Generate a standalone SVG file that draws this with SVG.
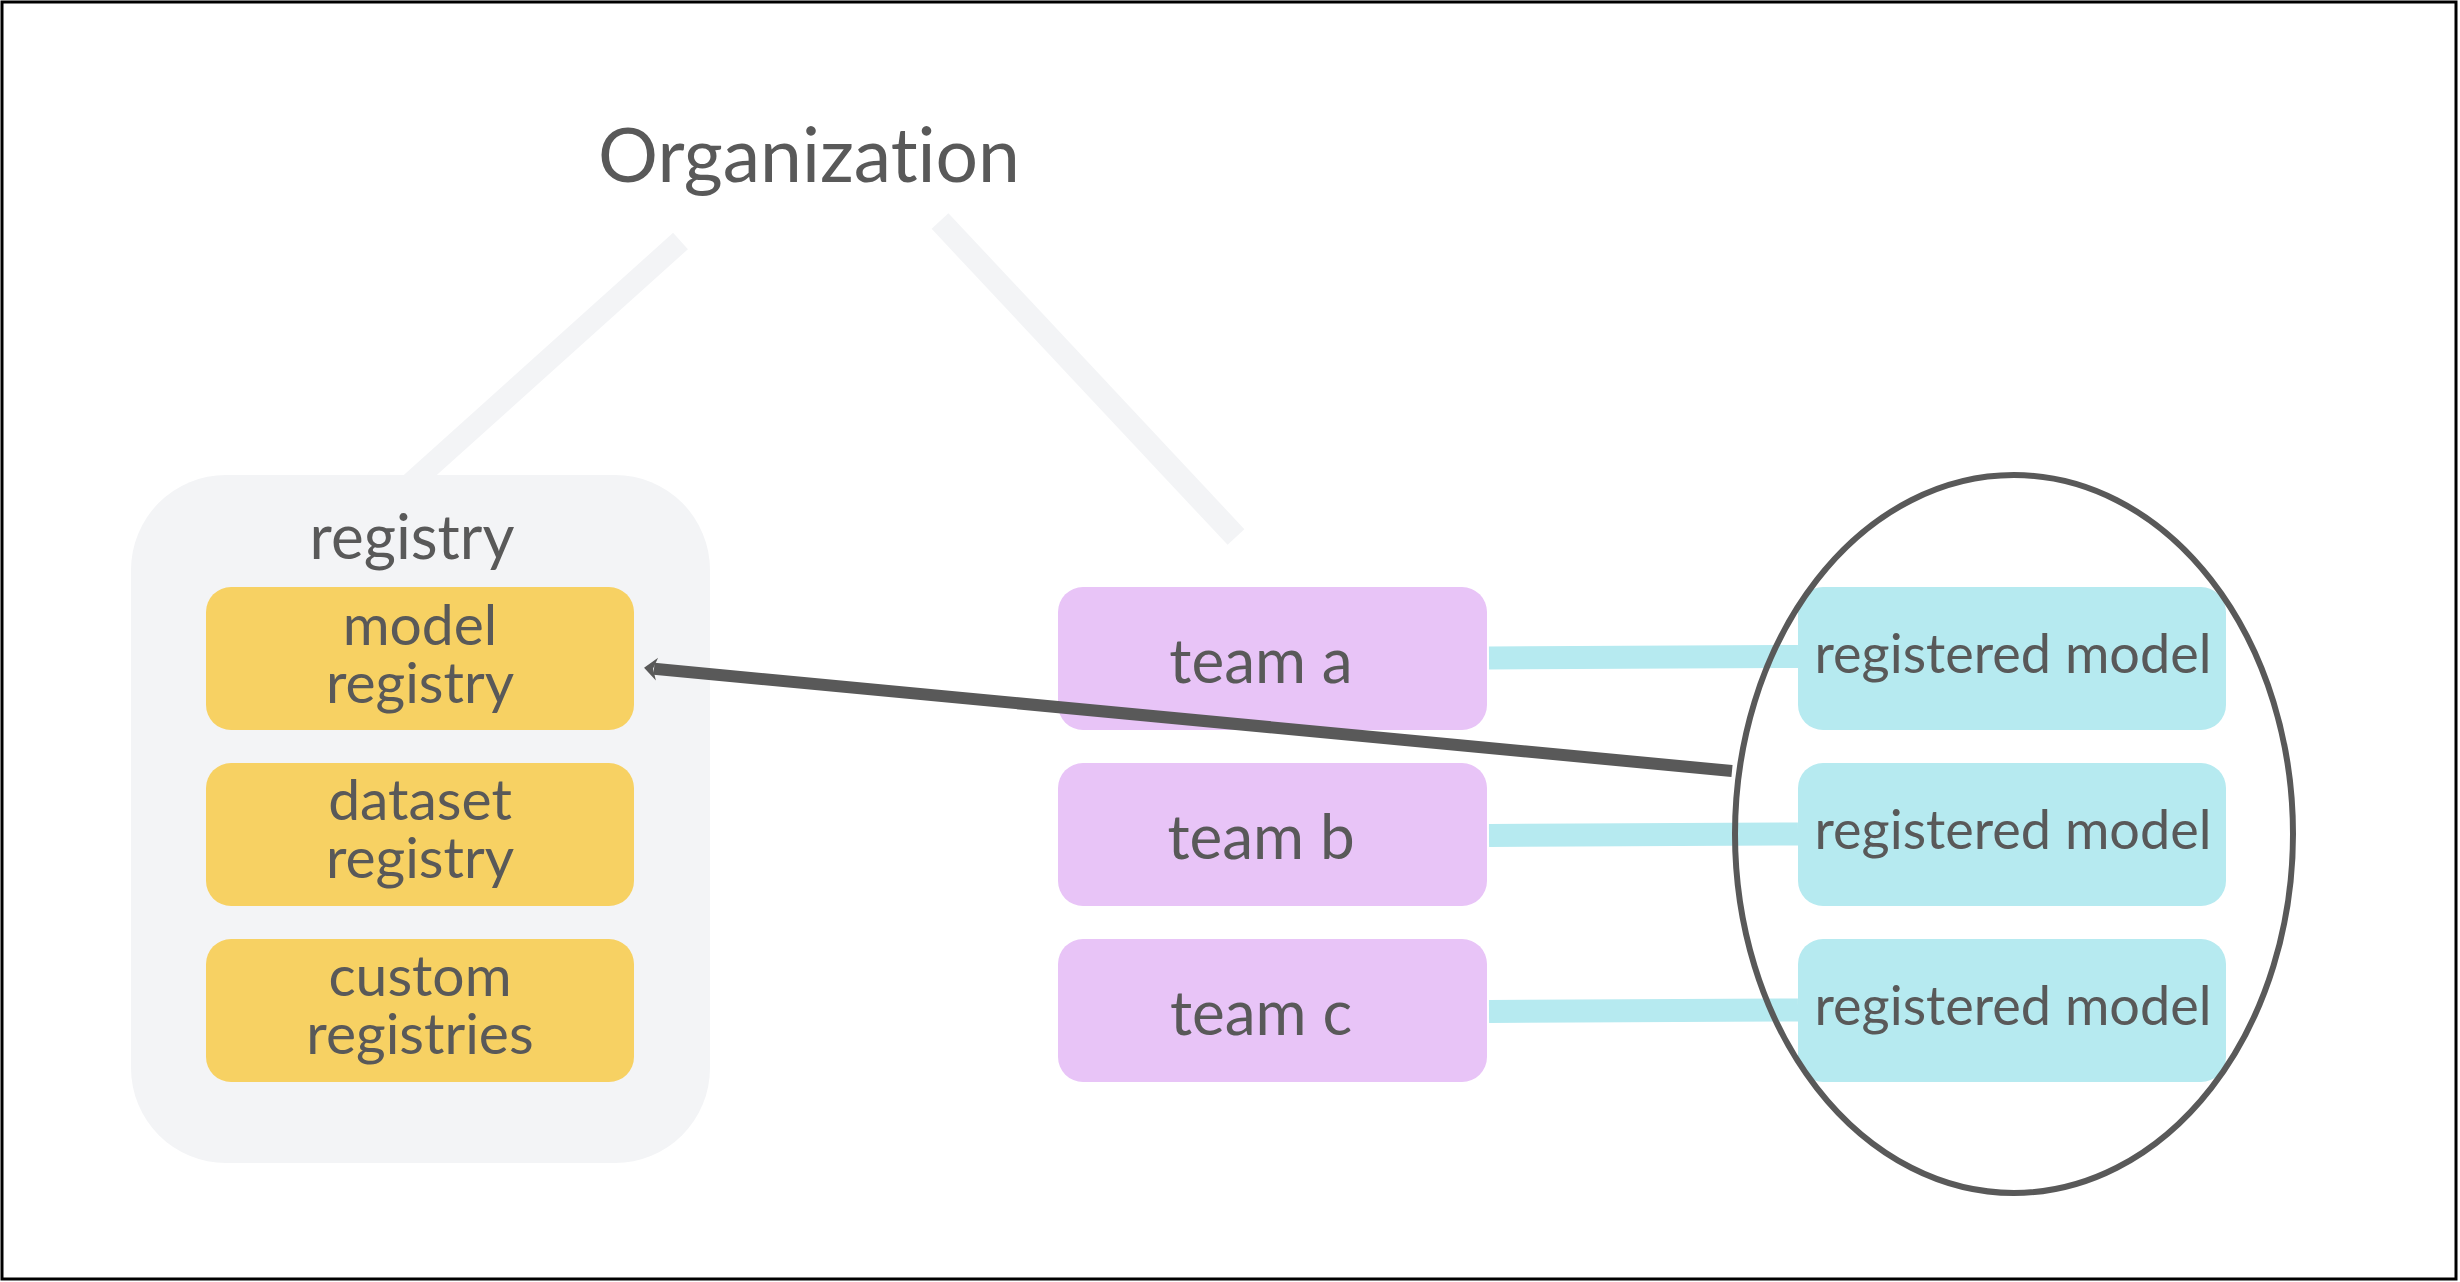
<svg xmlns="http://www.w3.org/2000/svg" width="2460" height="1282" viewBox="0 0 2460 1282">
  <style>
    .txt { font-family: Lato, "Noto Sans", "Liberation Sans", sans-serif; fill: #595959; text-anchor: middle; font-variant-ligatures: none; font-feature-settings: "liga" 0, "clig" 0; }
    .yellow { fill: #f7d163; }
    .purple { fill: #e8c4f7; }
    .cyan { fill: #b6eaf0; }
    .band { fill: #f3f4f6; stroke: none; }
    .bandline { stroke: #f3f4f6; stroke-width: 23; stroke-linecap: butt; fill: none; }
    .link { stroke: #b6eaf0; stroke-width: 23; stroke-linecap: butt; fill: none; }
    .arrow { stroke: #595959; stroke-width: 12; stroke-linecap: butt; fill: none; }
  </style>
  <defs>
    <marker id="head" markerUnits="userSpaceOnUse" viewBox="-14 -14 28 28" markerWidth="28" markerHeight="28" refX="0" refY="0" orient="auto" overflow="visible">
      <path d="M 10 0 L -3 -11.5 L 1 0 L -3 11.5 Z" fill="#595959"/>
    </marker>
  </defs>
  <rect x="0" y="0" width="2460" height="1282" fill="#ffffff"/>
  <rect x="2" y="2" width="2454" height="1277" fill="none" stroke="#000000" stroke-width="3"/>

  <g id="organization">
    <text class="txt" x="809" y="182" font-size="75">Organization</text>
  </g>

  <g id="registry">
    <rect x="131" y="475" width="579" height="688" rx="95" ry="95" fill="#f3f4f6"/>
    <text class="txt" x="412" y="559" font-size="62">registry</text>
  </g>

  <g id="model-registry">
    <rect class="yellow" x="206" y="587" width="428" height="143" rx="25"/>
    <text class="txt" x="420" y="645" font-size="57">model</text>
    <text class="txt" x="420" y="703" font-size="57">registry</text>
  </g>
  <g id="dataset-registry">
    <rect class="yellow" x="206" y="763" width="428" height="143" rx="25"/>
    <text class="txt" x="420" y="820" font-size="57">dataset</text>
    <text class="txt" x="420" y="878" font-size="57">registry</text>
  </g>
  <g id="custom-registries">
    <rect class="yellow" x="206" y="939" width="428" height="143" rx="25"/>
    <text class="txt" x="420" y="996" font-size="57">custom</text>
    <text class="txt" x="420" y="1054" font-size="57">registries</text>
  </g>

  <g id="team-a">
    <rect class="purple" x="1058" y="587" width="429" height="143" rx="25"/>
    <text class="txt" x="1261" y="683" font-size="62">team a</text>
  </g>
  <g id="team-b">
    <rect class="purple" x="1058" y="763" width="429" height="143" rx="25"/>
    <text class="txt" x="1261" y="859" font-size="62">team b</text>
  </g>
  <g id="team-c">
    <rect class="purple" x="1058" y="939" width="429" height="143" rx="25"/>
    <text class="txt" x="1261" y="1035" font-size="62">team c</text>
  </g>

  <g id="registered-model-a">
    <rect class="cyan" x="1798" y="587" width="428" height="143" rx="25"/>
    <text class="txt" x="2013" y="673" font-size="54">registered model</text>
  </g>
  <g id="registered-model-b">
    <rect class="cyan" x="1798" y="763" width="428" height="143" rx="25"/>
    <text class="txt" x="2013" y="849" font-size="54">registered model</text>
  </g>
  <g id="registered-model-c">
    <rect class="cyan" x="1798" y="939" width="428" height="143" rx="25"/>
    <text class="txt" x="2013" y="1025" font-size="54">registered model</text>
  </g>

  <g id="connectors">
    <polygon class="band" points="673.1,232.8 687.9,249.2 436.8,475 403.8,475"/>
    <line class="bandline" x1="940" y1="221" x2="1236" y2="537"/>
    <line class="link" x1="1489" y1="658" x2="1798" y2="656.5"/>
    <line class="link" x1="1489" y1="835.5" x2="1798" y2="834"/>
    <line class="link" x1="1489" y1="1011.5" x2="1798" y2="1010"/>
    <path class="arrow" d="M 1732 771 L 654 668.8" marker-end="url(#head)"/>
  </g>

  <g id="selection">
    <ellipse cx="2014" cy="834" rx="279" ry="359" fill="none" stroke="#595959" stroke-width="6"/>
  </g>
</svg>
